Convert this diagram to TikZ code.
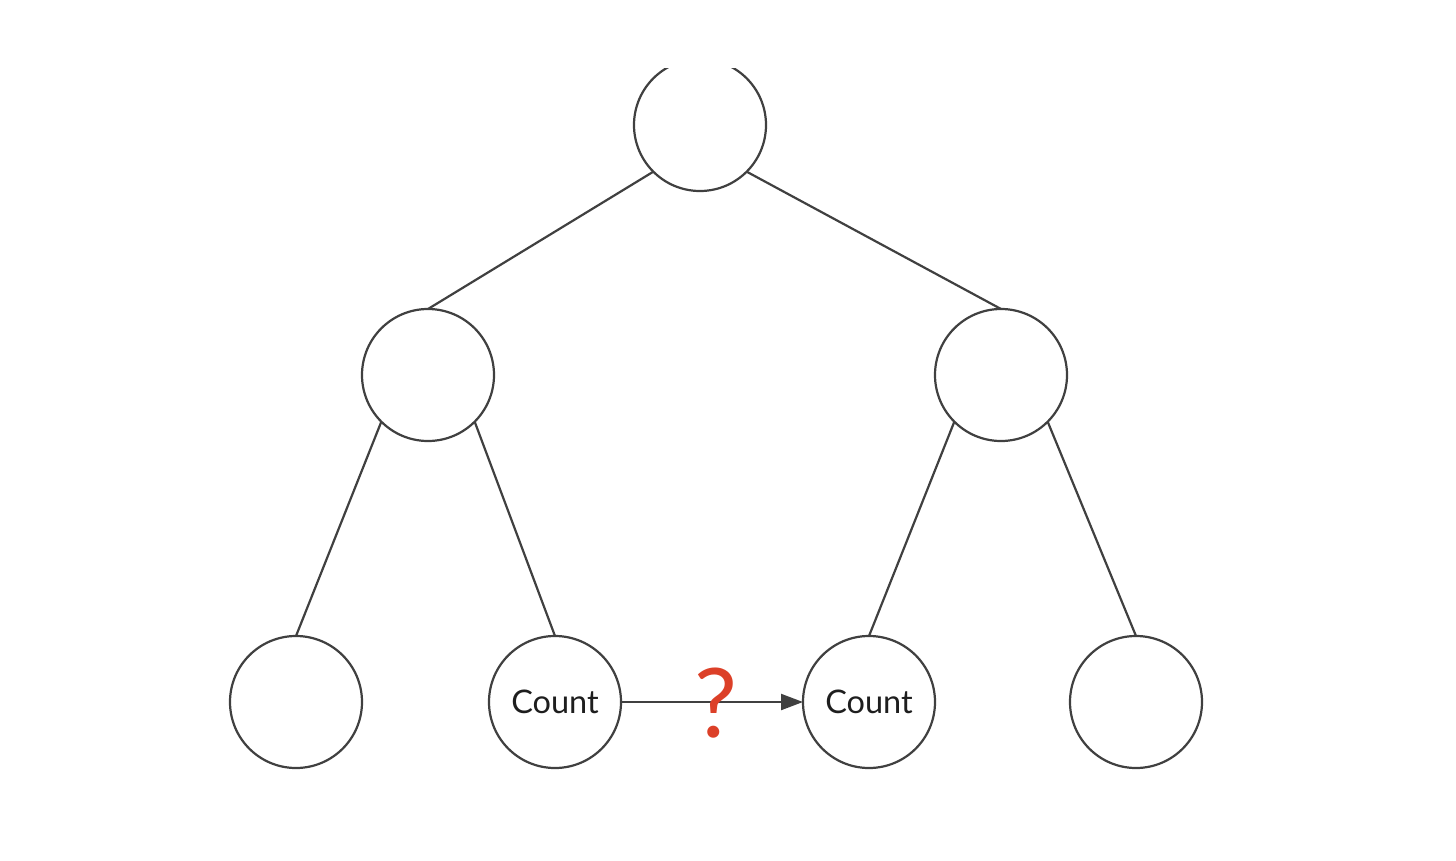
\documentclass[tikz,border=0pt]{standalone}
\usepackage{fontspec}
\setmainfont{Lato}
\usetikzlibrary{arrows.meta}
\definecolor{edgegray}{HTML}{404040}
\definecolor{textdark}{HTML}{1E1E1E}
\definecolor{qred}{HTML}{DC4028}
\begin{document}
\begin{tikzpicture}[x=1pt,y=-1pt,
  nd/.style={circle,draw=edgegray,line width=2.2pt,minimum size=132pt,inner sep=0pt,outer sep=0pt,
    font=\fontsize{32.5}{32.5}\selectfont,text=textdark},
  edge/.style={draw=edgegray,line width=2.2pt}]
\useasboundingbox (0,0) rectangle (1456,860);
\begin{scope}
\clip (0,68) rectangle (1456,860);
\node[nd] (r) at (700,125) {};
\node[nd] (a) at (428,375) {};
\node[nd] (b) at (1001,375) {};
\node[nd] (a1) at (296,702) {};
\node[nd] (a2) at (555,702) {Count};
\node[nd] (b1) at (869,702) {Count};
\node[nd] (b2) at (1136,702) {};
\draw[edge] (r.south west) -- (a.north);
\draw[edge] (r.south east) -- (b.north);
\draw[edge] (a.south west) -- (a1.north);
\draw[edge] (a.south east) -- (a2.north);
\draw[edge] (b.south west) -- (b1.north);
\draw[edge] (b.south east) -- (b2.north);
\draw[edge,-{Triangle[length=22pt,width=16pt]}] (a2) -- (b1);
\node[text=qred,font=\fontsize{96}{96}\selectfont,inner sep=0pt] (q) at (716,703) {?};
\end{scope}
\end{tikzpicture}
\end{document}
